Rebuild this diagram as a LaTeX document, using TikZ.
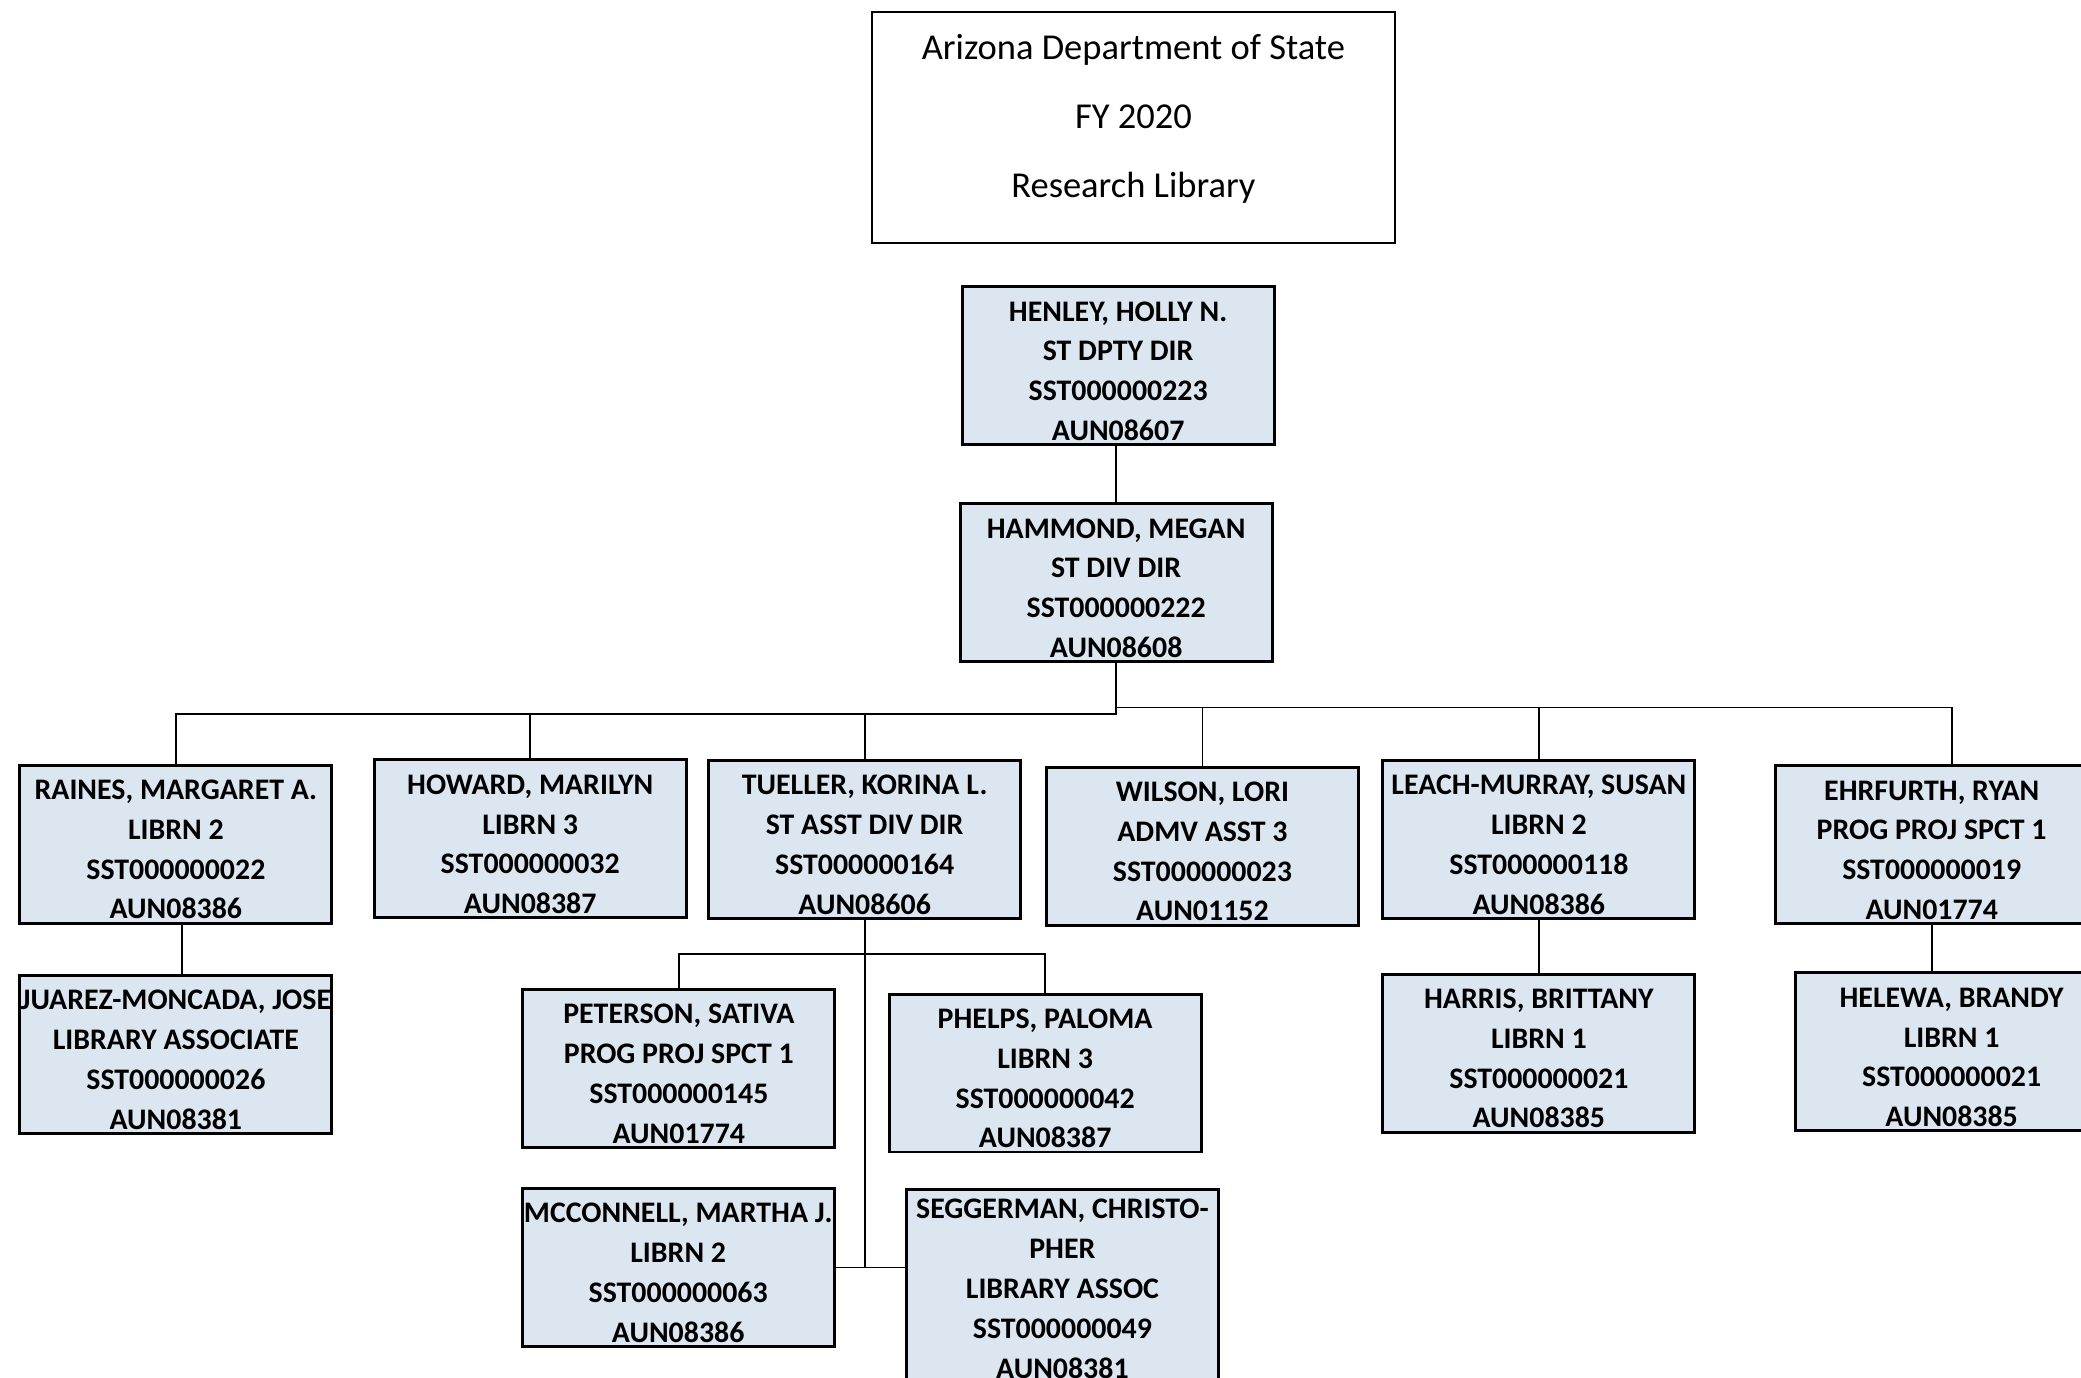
\documentclass[tikz,border=0pt]{standalone}
\usepackage{fontspec}
\setmainfont{Carlito}
\usepackage{xcolor}
\usepackage{tikz}
\usetikzlibrary{positioning}
\definecolor{boxfill}{HTML}{DCE6F1}

\begin{document}
\begin{tikzpicture}[x=1pt,y=-1pt,
  title/.style = {draw,line width=1.8pt,minimum width=394pt,minimum height=174pt,
        inner sep=0pt,align=center,text depth=17.5pt,font=\fontsize{27.5}{52}\selectfont},
  box/.style = {draw,line width=2.2pt,fill=boxfill,minimum width=235pt,minimum height=119pt,
        inner sep=0pt,align=center,text height=113pt,font=\fontsize{22.5}{30}\selectfont\bfseries},
  link/.style = {line width=1.3pt}
]
 \useasboundingbox (0,0) rectangle (1568,1038);
 \node[title] (t) at (854,96) {Arizona Department of State\\FY 2020\\Research Library};
 % top of the chart
 \node[box] (b1) at (842.5,275.5) {HENLEY, HOLLY N.\\ST DPTY DIR\\SST000000223\\AUN08607};
 \node[box] (b2) at (841,439) {HAMMOND, MEGAN\\ST DIV DIR\\SST000000222\\AUN08608};
 % first row
 \node[box] (b31) at (132.5,636) {RAINES, MARGARET A.\\LIBRN 2\\SST000000022\\AUN08386};
 \node[box] (b32) at (399.5,632) {HOWARD, MARILYN\\LIBRN 3\\SST000000032\\AUN08387};
 \node[box] (b33) at (651.5,632.5) {TUELLER, KORINA L.\\ST ASST DIV DIR\\SST000000164\\AUN08606};
 \node[box] (b34) at (906,637.5) {WILSON, LORI\\ADMV ASST 3\\SST000000023\\AUN01152};
 \node[box] (b35) at (1159.5,632.5) {LEACH-MURRAY, SUSAN\\LIBRN 2\\SST000000118\\AUN08386};
 \node[box] (b36) at (1455.5,636.5) {EHRFURTH, RYAN\\PROG PROJ SPCT 1\\SST000000019\\AUN01774};
 % second row
 \node[box] (b41) at (132.5,794.5) {JUAREZ-MONCADA, JOSE\\LIBRARY ASSOCIATE\\SST000000026\\AUN08381};
 \node[box] (b42) at (511.5,805) {PETERSON, SATIVA\\PROG PROJ SPCT 1\\SST000000145\\AUN01774};
 \node[box] (b43) at (787.5,808.5) {PHELPS, PALOMA\\LIBRN 3\\SST000000042\\AUN08387};
 \node[box] (b44) at (511,955) {MCCONNELL, MARTHA J.\\LIBRN 2\\SST000000063\\AUN08386};
 \node[box,minimum height=150pt,text height={}] (b45) at (800.5,971) {SEGGERMAN, CHRISTO-\\PHER\\LIBRARY ASSOC\\SST000000049\\AUN08381};
 \node[box] (b46) at (1159.5,793.5) {HARRIS, BRITTANY\\LIBRN 1\\SST000000021\\AUN08385};
 \node[box] (b47) at (1470.5,792.5) {HELEWA, BRANDY\\LIBRN 1\\SST000000021\\AUN08385};
 \coordinate (j1) at (841,538);
 \coordinate (j2) at (841,533);
 \coordinate (j3) at (651,719);
 \begin{scope}[link]
 \draw (b2.north |- b1.south) -- (b2.north);
 \draw (b2.south) -- (j1) -| (b31.north);
 \draw (j1) -- (j2) -| ([xshift=15.5pt]b36.north);
 \draw (b32.north |- j1) -- (b32.north);
 \draw (b33.north |- j1) -- (b33.north);
 \draw (b34.north |- j2) -- (b34.north);
 \draw (b35.north |- j2) -- (b35.north);
 \draw ([xshift=4.5pt]b31.south) -- ([xshift=4.5pt]b41.north);
 \draw (b35.south) -- (b46.north);
 \draw (b36.south) -- (b36.south |- b47.north);
 \draw (b33.south) -- (b33.south |- b44.east);
 \draw (b42.north) |- (j3) -| (b43.north);
 \draw (b44.east) -- (b44.east -| b45.west);
 \end{scope}
\end{tikzpicture}
\end{document}
